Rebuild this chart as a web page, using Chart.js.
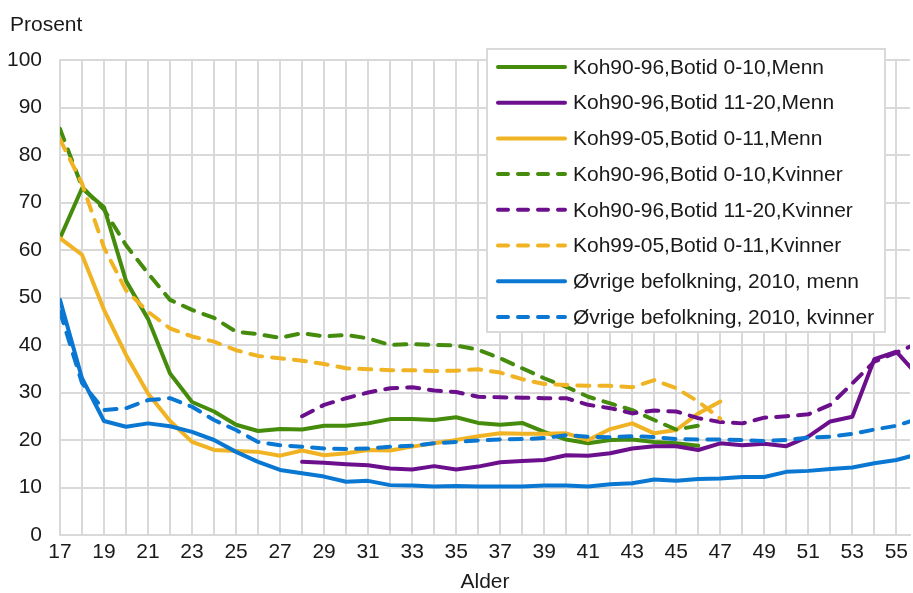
<!DOCTYPE html>
<html>
<head>
<meta charset="utf-8">
<script src="https://cdn.jsdelivr.net/npm/chart.js@4.4.1/dist/chart.umd.min.js"></script>
<style>
html, body { margin: 0; padding: 0; background: #fff; overflow: hidden; }
#wrap { width: 913px; height: 593px; position: relative; }
</style>
</head>
<body>
<div id="wrap"><canvas id="alderChart"></canvas></div>
<script>
const ages = [17, 18, 19, 20, 21, 22, 23, 24, 25, 26, 27, 28, 29, 30, 31, 32, 33, 34, 35, 36,
              37, 38, 39, 40, 41, 42, 43, 44, 45, 46, 47, 48, 49, 50, 51, 52, 53, 54, 55, 56];

const koh9096Kort_menn = [62.5, 73, 69, 53.5, 45.5, 34, 28, 26, 23.2, 21.9, 22.3, 22.2, 23, 23, 23.5, 24.4, 24.4, 24.2, 24.8, 23.6,
                          23.2, 23.6, 21.7, 20.1, 19.3, 20, 20.1, 19.6, 19.3, 18.8, null, null, null, null, null, null, null, null, null, null];
const koh9096Lang_menn = [null, null, null, null, null, null, null, null, null, null, null, 15.4, 15.2, 14.9, 14.7, 14, 13.8, 14.5, 13.8, 14.4,
                          15.3, 15.6, 15.8, 16.8, 16.7, 17.2, 18.2, 18.7, 18.7, 17.9, 19.3, 18.9, 19.2, 18.7, 20.7, 23.9, 24.9, 37, 38.6, 33.5];
const koh9905_menn = [62.5, 59, 47.4, 37.9, 29.8, 24, 19.6, 17.9, 17.7, 17.5, 16.7, 17.8, 16.8, 17.2, 17.9, 17.8, 18.6, 19.3, 20, 20.8,
                      21.4, 21.3, 21.3, 21.4, 20, 22.3, 23.5, 21.4, 22.1, 25.6, 28.1, null, null, null, null, null, null, null, null, null];
const koh9096Kort_kvinner = [85.5, 73.3, 68.5, 61, 55.1, 49.5, 47.4, 45.7, 42.8, 42.3, 41.5, 42.5, 41.8, 42.1, 41.4, 40, 40.2, 40, 39.9, 39,
                             37.2, 35.1, 33, 31.2, 29.1, 27.7, 26.3, 24.2, 22.2, 23, null, null, null, null, null, null, null, null, null, null];
const koh9096Lang_kvinner = [null, null, null, null, null, null, null, null, null, null, null, 25, 27.4, 28.8, 30, 30.9, 31.1, 30.4, 30.1, 29.1,
                             29, 28.9, 28.8, 28.8, 27.4, 26.7, 25.6, 26.2, 26, 24.6, 23.8, 23.5, 24.7, 25, 25.4, 27.4, 31.9, 36.5, 38.4, 40.4];
const koh9905_kvinner = [83.3, 74, 60.5, 51.5, 47, 43.5, 41.8, 40.7, 38.9, 37.7, 37.2, 36.7, 36, 35.1, 34.9, 34.7, 34.7, 34.5, 34.6, 34.9,
                         34.2, 32.8, 31.8, 31.6, 31.4, 31.4, 31.1, 32.6, 30.9, 28.1, 24.5, null, null, null, null, null, null, null, null, null];
const ovrige_menn = [49.5, 33, 24, 22.8, 23.5, 22.9, 21.7, 20, 17.5, 15.4, 13.7, 13, 12.3, 11.2, 11.4, 10.5, 10.4, 10.2, 10.3, 10.2,
                     10.2, 10.2, 10.4, 10.4, 10.2, 10.7, 10.9, 11.7, 11.4, 11.8, 11.9, 12.2, 12.2, 13.3, 13.5, 13.9, 14.2, 15.1, 15.8, 17];
const ovrige_kvinner = [47, 32, 26.3, 26.7, 28.4, 28.8, 27, 24.2, 22.1, 19.6, 18.9, 18.6, 18.2, 18.1, 18.2, 18.6, 18.8, 19.3, 19.6, 19.9,
                        20.1, 20.2, 20.4, 21, 20.7, 20.6, 20.8, 20.6, 20.2, 20.1, 20.1, 20, 19.8, 20, 20.5, 20.7, 21.3, 22.2, 23, 24.5];

const seriesLabels = [
    'Koh90-96,Botid 0-10,Menn',
    'Koh90-96,Botid 11-20,Menn',
    'Koh99-05,Botid 0-11,Menn',
    'Koh90-96,Botid 0-10,Kvinner',
    'Koh90-96,Botid 11-20,Kvinner',
    'Koh99-05,Botid 0-11,Kvinner',
    'Øvrige befolkning, 2010, menn',
    'Øvrige befolkning, 2010, kvinner'
];
const seriesValues = [koh9096Kort_menn, koh9096Lang_menn, koh9905_menn, koh9096Kort_kvinner,
                      koh9096Lang_kvinner, koh9905_kvinner, ovrige_menn, ovrige_kvinner];

const green = '#458b0c';
const purple = '#6c0f8c';
const yellow = '#f0b323';
const blue = '#0a78d2';
const seriesColors = [green, purple, yellow, green, purple, yellow, blue, blue];
const dashed = [false, false, false, true, true, true, false, true];

const gridGrey = '#d9d9d9';
const textColor = '#1a1a1a';
const fontFamily = "'Liberation Sans', Arial, sans-serif";
const fontSize = 21;

Chart.defaults.font.family = fontFamily;
Chart.defaults.color = textColor;

// legend drawn as a framed box over the plot, like the original
const boxLegend = {
    id: 'boxLegend',
    afterDatasetsDraw(chart) {
        const ctx = chart.ctx;
        ctx.save();
        ctx.fillStyle = '#fff';
        ctx.fillRect(487, 49, 398, 283);
        ctx.strokeStyle = gridGrey;
        ctx.lineWidth = 2;
        ctx.strokeRect(487, 49, 398, 283);
        chart.data.datasets.forEach((ds, i) => {
            const y = 67 + i * 35.7;
            ctx.beginPath();
            ctx.strokeStyle = ds.borderColor;
            ctx.lineWidth = 4;
            ctx.lineCap = 'round';
            ctx.setLineDash(ds.borderDash.length ? [10, 10] : []);
            ctx.moveTo(498, y);
            ctx.lineTo(565, y);
            ctx.stroke();
            ctx.setLineDash([]);
            ctx.fillStyle = textColor;
            ctx.font = fontSize + 'px ' + fontFamily;
            ctx.textBaseline = 'middle';
            ctx.textAlign = 'left';
            ctx.fillText(ds.label, 573, y + 1);
        });
        ctx.restore();
    }
};

const unitLabel = {
    id: 'unitLabel',
    afterDraw(chart) {
        const ctx = chart.ctx;
        ctx.save();
        ctx.fillStyle = textColor;
        ctx.font = fontSize + 'px ' + fontFamily;
        ctx.textBaseline = 'middle';
        ctx.textAlign = 'left';
        ctx.fillText('Prosent', 10, 25);
        ctx.restore();
    }
};

const datasets = seriesLabels.map((label, i) => ({
    label: label,
    data: ages.map((a, j) => ({ x: a, y: seriesValues[i][j] })),
    borderColor: seriesColors[i],
    backgroundColor: seriesColors[i],
    borderWidth: 4,
    borderDash: dashed[i] ? [12, 10] : [],
    borderCapStyle: 'round',
    borderJoinStyle: 'round',
    pointRadius: 0,
    tension: 0,
    spanGaps: false,
    order: seriesLabels.length - i
}));

const ctx = document.getElementById('alderChart').getContext('2d');
const alderChart = new Chart(ctx, {
    type: 'line',
    data: { datasets: datasets },
    options: {
        responsive: true,
        maintainAspectRatio: false,
        animation: false,
        layout: { padding: { top: 60, left: 0, right: 0, bottom: 0 } },
        plugins: {
            legend: { display: false },
            tooltip: { enabled: false }
        },
        scales: {
            x: {
                type: 'linear',
                min: 17,
                max: 55.62,
                afterFit: (scale) => { scale.height = 58; },
                ticks: {
                    stepSize: 1,
                    maxTicksLimit: 100,
                    includeBounds: false,
                    autoSkip: false,
                    maxRotation: 0,
                    padding: 5,
                    font: { size: fontSize },
                    callback: (v) => (Number.isInteger(v) && v % 2 === 1) ? String(v) : ''
                },
                grid: { color: gridGrey, lineWidth: 2, drawTicks: false },
                border: { color: gridGrey, width: 2 },
                title: {
                    display: true,
                    text: 'Alder',
                    font: { size: fontSize, lineHeight: 1 },
                    padding: { top: 0, bottom: 0 }
                }
            },
            y: {
                min: 0,
                max: 100,
                afterFit: (scale) => { scale.width = 60; },
                ticks: {
                    stepSize: 10,
                    padding: 18,
                    font: { size: fontSize }
                },
                grid: { color: gridGrey, lineWidth: 2, drawTicks: false },
                border: { color: gridGrey, width: 2 }
            }
        }
    },
    plugins: [boxLegend, unitLabel]
});
</script>
</body>
</html>
